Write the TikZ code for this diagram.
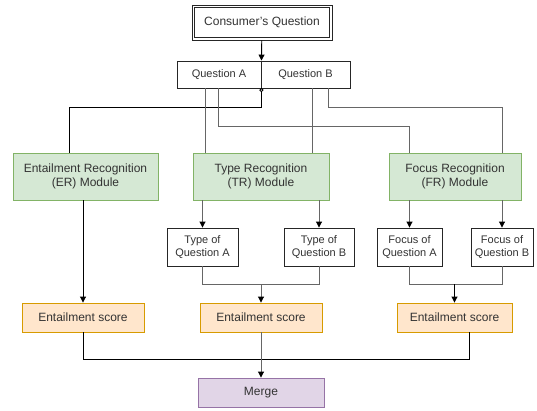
\documentclass[tikz,border=0pt]{standalone}
\usepackage{fontspec}
\setmainfont{Liberation Sans}
\usepackage{xcolor}
\usepackage{tikz}
\usetikzlibrary{positioning, arrows.meta, calc}
\definecolor{txt}{RGB}{51,51,51}
\definecolor{wire}{RGB}{102,102,102}
\definecolor{grnfill}{RGB}{213,232,212}
\definecolor{grnline}{RGB}{130,179,102}
\definecolor{orgfill}{RGB}{255,230,204}
\definecolor{orgline}{RGB}{215,155,0}
\definecolor{purfill}{RGB}{225,213,231}
\definecolor{purline}{RGB}{150,115,166}
\tikzset{
  box/.style={
    rectangle, draw=black!85, line width=0.9pt, fill=white, align=center,
    inner sep=1pt, text=txt, font=\fontsize{12}{14.5}\selectfont
  },
  small/.style={box, font=\fontsize{11}{13.5}\selectfont},
  module/.style={box, draw=grnline, fill=grnfill, minimum height=47pt},
  score/.style={box, draw=orgline, fill=orgfill, minimum height=29pt},
  merged/.style={box, draw=purline, fill=purfill, minimum height=29pt},
  wire/.style={draw=wire, line width=0.9pt},
  dark/.style={draw=black, line width=0.9pt},
  arr/.style={-{Triangle[length=6pt,width=6pt,color=black]}},
}
\begin{document}
\begin{tikzpicture}[x=1pt, y=-1pt]
  \useasboundingbox (0,0) rectangle (537,410);

  % question boxes
  \node[box, minimum width=140pt, minimum height=35pt] (cq) at (262,22.5) {Consumer's Question};
  \draw[black!85, line width=0.9pt] ([shift={(3,3)}]cq.north west) rectangle ([shift={(-3,-3)}]cq.south east);
  \node[small, minimum width=84pt, minimum height=27pt] (qa) at (219,74.5) {Question A};
  \node[small, minimum width=89pt, minimum height=27pt] (qb) at (305.5,74.5) {Question B};

  % recognition modules
  \node[module, minimum width=145pt] (er) at (85.5,176.5) {Entailment Recognition\\(ER) Module};
  \node[module, minimum width=136pt] (tr) at (261,176.5) {Type Recognition\\(TR) Module};
  \node[module, minimum width=132pt] (fr) at (455,176.5) {Focus Recognition\\(FR) Module};

  \node[small, minimum width=71pt, minimum height=38pt] (ta) at (202.5,247) {Type of\\Question A};
  \node[small, minimum width=70pt, minimum height=38pt] (tb) at (319,247) {Type of\\Question B};
  \node[small, minimum width=65pt, minimum height=38pt] (fa) at (409.5,247) {Focus of\\Question A};
  \node[small, minimum width=62pt, minimum height=38pt] (fb) at (502,247) {Focus of\\Question B};

  % scores
  \node[score, minimum width=122pt] (es1) at (83,317.5) {Entailment score};
  \node[score, minimum width=122pt] (es2) at (261,317.5) {Entailment score};
  \node[score, minimum width=115pt] (es3) at (454.5,317.5) {Entailment score};
  \node[merged, minimum width=126pt] (mg) at (261,392.5) {Merge};

  \draw[dark, arr] (cq) -- (qa.north east);

  % pair to the modules
  \draw[dark] (qa.south east) -- ++(0,19) -| ([xshift=-16.5pt]er.north);
  \draw[dark, fill=white] (qa.south east) ++(0,1.6) circle (1.6pt);
  \draw[wire] ([xshift=-14pt]qa.south) -- ([xshift=-14pt]qa.south |- tr.north);
  \draw[wire] ([xshift=-1pt]qa.south) |- (fa.north |- 0,126) -- (fa.north |- fr.north);
  \draw[wire] ([xshift=6.5pt]qb.south) -- ([xshift=6.5pt]qb.south |- tr.north);
  \draw[wire] ([xshift=22.5pt]qb.south) |- (fb.north |- 0,107) -- (fb.north |- fr.north);

  % modules to outputs
  \draw[dark, arr] (er.south -| es1) -- (es1);
  \draw[wire, arr] (tr.south -| ta) -- (ta);
  \draw[wire, arr] (tr.south -| tb) -- (tb);
  \draw[wire, arr] (fr.south -| fa) -- (fa);
  \draw[wire, arr] (fr.south -| fb) -- (fb);

  \draw[wire] (ta.south) -- ++(0,18) -| (tb.south);
  \draw[wire, arr] (es2 |- 0,284) -- (es2);
  \draw[wire] (fa.south) -- ++(0,18) -| (fb.south);
  \draw[dark, arr] (es3 |- 0,284) -- (es3);

  % merge
  \draw[dark] (es1.south) |- ([xshift=14.5pt]es3.south |- 0,359) -- ([xshift=14.5pt]es3.south);
  \draw[wire, arr] (es2) -- (mg);
\end{tikzpicture}
\end{document}
